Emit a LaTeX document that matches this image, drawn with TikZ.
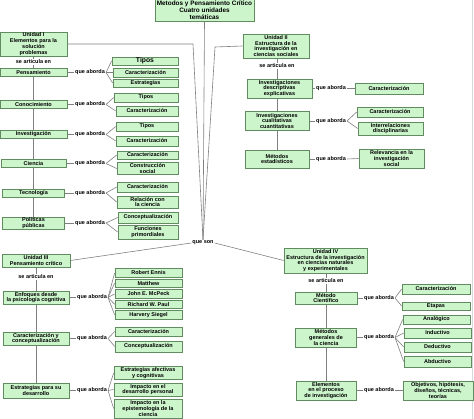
\documentclass[tikz,border=0pt]{standalone}
\usepackage{fontspec}
\setmainfont{Liberation Sans}
\pgfdeclarelayer{background}
\pgfsetlayers{background,main}
\definecolor{boxfill}{RGB}{204,245,204}
\definecolor{boxline}{RGB}{96,140,96}
\definecolor{conline}{RGB}{128,128,128}
\newcommand\cmfont{\fontsize{5.5}{5.8}\selectfont\bfseries}
\tikzset{
 cbox/.style={draw=boxline, fill=boxfill, line width=0.7pt, inner sep=0pt, align=center, font=\cmfont},
 sz/.style 2 args={minimum width=#1pt, minimum height=#2pt},
 lbl/.style={inner sep=1pt, font=\cmfont},
 conn/.style={draw=conline, line width=0.6pt},
}
\begin{document}
\begin{tikzpicture}[x=1pt,y=-1pt]
\useasboundingbox (0,0) rectangle (474,419);
% root
\node[cbox,sz={99}{22},font=\fontsize{6.4}{6.8}\selectfont\bfseries] (root) at (204.5,10) {Metodos y Pensamiento Crítico\\Cuatro unidades\\temáticas};
\node[lbl] (qs) at (203,243) {que son};
% units
\node[cbox,sz={67}{24}] (u1) at (33.5,44) {Unidad I\\Elementos para la\\solución\\problemas};
\node[cbox,sz={66}{24}] (u2) at (276,46) {Unidad II\\Estructura de la\\investigación en\\ciencias sociales};
\node[cbox,sz={68}{13}] (u3) at (36,260.5) {Unidad III\\Pensamiento crítico};
\node[cbox,sz={83}{25}] (u4) at (325.5,260.5) {Unidad IV\\Estructura de la investigación\\en ciencias naturales\\y experimentales};
% Unidad I
\node[lbl] (sa1) at (33.5,62) {se articula en};
\node[cbox,sz={67}{8}] (pens) at (33.5,72.5) {Pensamiento};
\node[cbox,sz={67}{8}] (cono) at (33.5,104.5) {Conocimiento};
\node[cbox,sz={67}{8}] (inv) at (33.5,134.5) {Investigación};
\node[cbox,sz={65}{8}] (cien) at (33.5,163.5) {Ciencia};
\node[cbox,sz={62}{8}] (tec) at (33.5,193) {Tecnología};
\node[cbox,sz={62}{12}] (pol) at (33.5,223) {Políticas\\públicas};
\node[lbl] (qa1) at (90,72.5) {que aborda};
\node[lbl] (qa2) at (90,104.5) {que aborda};
\node[lbl] (qa3) at (90,134.5) {que aborda};
\node[lbl] (qa4) at (90,163.5) {que aborda};
\node[lbl] (qa5) at (90,193) {que aborda};
\node[lbl] (qa6) at (90,223) {que aborda};
\node[cbox,sz={66}{8},font=\fontsize{6.8}{7}\selectfont\bfseries] (t1) at (145,61) {Tipos};
\node[cbox,sz={65}{9}] (c1) at (145.5,72.5) {Caracterización};
\node[cbox,sz={65}{8}] (e1) at (145.5,83) {Estrategias};
\node[cbox,sz={64}{9}] (t2) at (146,97.5) {Tipos};
\node[cbox,sz={62}{10}] (c2) at (147,111) {Caracterización};
\node[cbox,sz={62}{9}] (t3) at (147,126.5) {Tipos};
\node[cbox,sz={62}{10}] (c3) at (147,141) {Caracterización};
\node[cbox,sz={61}{8}] (c4) at (147.5,155) {Caracterización};
\node[cbox,sz={61}{12}] (cs4) at (147.5,168.5) {Construcción\\social};
\node[cbox,sz={61}{10}] (c5) at (147.5,187) {Caracterización};
\node[cbox,sz={61}{12}] (r5) at (147.5,202) {Relación con\\la ciencia};
\node[cbox,sz={60}{11}] (cp6) at (148,217.5) {Conceptualización};
\node[cbox,sz={60}{14}] (f6) at (148,232) {Funciones\\primordiales};
% Unidad II
\node[lbl] (sa2) at (277,66) {se articula en};
\node[cbox,sz={65}{19}] (dsc) at (279.5,88.5) {Investigaciones\\descriptivas\\explicativas};
\node[cbox,sz={64}{19}] (cua) at (277,121) {Investigaciones\\cualitativas\\cuantitativas};
\node[cbox,sz={64}{18}] (met) at (277,159) {Métodos\\estadísticos};
\node[lbl] (qb1) at (331,88.5) {que aborda};
\node[lbl] (qb2) at (331,121) {que aborda};
\node[lbl] (qb3) at (331,159) {que aborda};
\node[cbox,sz={68}{11}] (cd) at (389,88.5) {Caracterización};
\node[cbox,sz={66}{10}] (cq) at (390,112) {Caracterización};
\node[cbox,sz={65}{13}] (iq) at (390.5,128.5) {Interrelaciones\\disciplinarias};
\node[cbox,sz={65}{19}] (rm) at (391.5,158.5) {Relevancia en la\\investigación\\social};
% Unidad III
\node[lbl] (sa3) at (36,277) {se articula en};
\node[cbox,sz={66}{13}] (enf) at (36,297.5) {Enfoques desde\\la psicología cognitiva};
\node[cbox,sz={66}{13}] (cyc) at (36,338.5) {Caracterización y\\conceptualización};
\node[cbox,sz={66}{15}] (est) at (36,390.5) {Estrategias para su\\desarrollo};
\node[lbl] (qc1) at (92,297.5) {que aborda};
\node[lbl] (qc2) at (92,338.5) {que aborda};
\node[lbl] (qc3) at (92,390.5) {que aborda};
\node[cbox,sz={67}{9}] (re) at (148.5,273) {Robert Ennis};
\node[cbox,sz={67}{8.5}] (ma) at (148.5,283.2) {Matthew};
\node[cbox,sz={67}{8.5}] (jm) at (148.5,293.9) {John E. McPeck};
\node[cbox,sz={67}{8.5}] (rp) at (148.5,304.3) {Richard W. Paul};
\node[cbox,sz={67}{8.5}] (hs) at (148.5,314.9) {Harvery Siegel};
\node[cbox,sz={67}{9}] (cr) at (148.5,331.5) {Caracterización};
\node[cbox,sz={67}{11}] (cpt) at (148.5,346.5) {Conceptualización};
\node[cbox,sz={68}{12.5}] (ea) at (148,373) {Estrategias afectivas\\y cognitivas};
\node[cbox,sz={68}{13}] (ip) at (148,389.5) {Impacto en el\\desarrollo personal};
\node[cbox,sz={68}{19}] (ie) at (148,408.5) {Impacto en la\\epistemología de la\\ciencia};
% Unidad IV
\node[lbl] (sa4) at (326,281) {se articula en};
\node[cbox,sz={62}{12}] (mc) at (326,298) {Método\\Científico};
\node[cbox,sz={61}{19}] (mg) at (326,337.5) {Métodos\\generales de\\la ciencia};
\node[cbox,sz={60}{19}] (el) at (326,390.5) {Elementos\\en el proceso\\de investigación};
\node[lbl] (qd1) at (379,298) {que aborda};
\node[lbl] (qd2) at (379,337.5) {que aborda};
\node[lbl] (qd3) at (379,390.5) {que aborda};
\node[cbox,sz={68}{10}] (c7) at (436,289) {Caracterización};
\node[cbox,sz={68}{8}] (et) at (436,306) {Etapas};
\node[cbox,sz={67}{9}] (an) at (436.5,319.5) {Analógico};
\node[cbox,sz={67}{10}] (ind) at (437.5,333) {Inductivo};
\node[cbox,sz={67}{10}] (ded) at (437.5,347) {Deductivo};
\node[cbox,sz={67}{11}] (abd) at (437.5,361.5) {Abductivo};
\node[cbox,sz={70}{19}] (ob) at (438,390.5) {Objetivos, hipótesis,\\diseños, técnicas,\\teorías};
\coordinate (k1) at (193,44);
\coordinate (k2) at (215,47);
\begin{pgfonlayer}{background}
\draw[gray!30, line width=0.8pt] (472,0) -- (472,419);
\draw[conn] (root.south) -- (qs.north);
\draw[conn] (qs.north) -- (k1) -- (u1.east);
\draw[conn] (qs.north) -- (k2) -- (u2.west);
\draw[conn] (qs.west) -- (u3.east);
\draw[conn] (qs.east) -- (u4.west);
% spines
\draw[conn] (u1.south) -- (sa1.north);
\foreach \n in {pens,cono,inv,cien,tec,pol} \draw[conn] (sa1.south) -- (sa1.south |- \n.north);
\draw[conn] (u2.south -| sa2.north) -- (sa2.north);
\foreach \n in {dsc,cua,met} \draw[conn] (sa2.south) -- (sa2.south |- \n.north);
\draw[conn] (u3.south) -- (sa3.north);
\foreach \n in {enf,cyc,est} \draw[conn] (sa3.south) -- (sa3.south |- \n.north);
\draw[conn] (u4.south -| sa4.north) -- (sa4.north);
\foreach \n in {mc,mg,el} \draw[conn] (sa4.south) -- (sa4.south |- \n.north);
% concept to linking phrase
\foreach \a/\b in {pens/qa1,cono/qa2,inv/qa3,cien/qa4,tec/qa5,pol/qa6,dsc/qb1,cua/qb2,met/qb3,enf/qc1,cyc/qc2,est/qc3,mc/qd1,mg/qd2,el/qd3}
  \draw[conn] (\a.east) -- (\b.west);
% linking phrase to targets
\foreach \a/\b in {qa1/t1,qa1/c1,qa1/e1,qa2/t2,qa2/c2,qa3/t3,qa3/c3,qa4/c4,qa4/cs4,qa5/c5,qa5/r5,qa6/cp6,qa6/f6,qb1/cd,qb2/cq,qb2/iq,qb3/rm,qc1/re,qc1/ma,qc1/jm,qc1/rp,qc1/hs,qc2/cr,qc2/cpt,qc3/ea,qc3/ip,qc3/ie,qd1/c7,qd1/et,qd2/an,qd2/ind,qd2/ded,qd2/abd,qd3/ob}
  \draw[conn] (\a.east) -- (\b.west);
\end{pgfonlayer}
\end{tikzpicture}
\end{document}
